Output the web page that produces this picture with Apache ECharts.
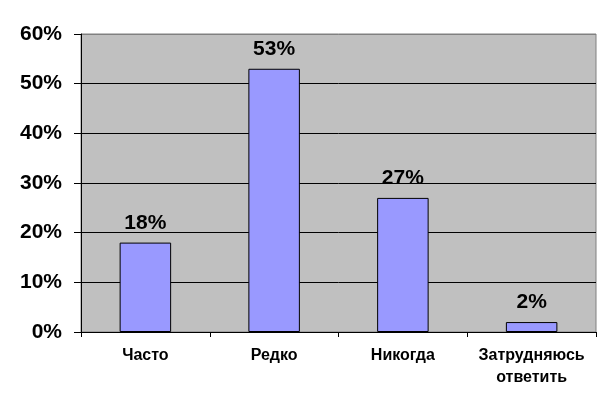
<!DOCTYPE html>
<html><head><meta charset="utf-8">
<script src="https://cdn.jsdelivr.net/npm/echarts@6/dist/echarts.min.js"></script>
<style>html,body{margin:0;padding:0;background:#fff}#c{width:612px;height:408px}</style>
</head><body><div id="c"></div>
<script>
const categories = ['Часто', 'Редко', 'Никогда', 'Затрудняюсь\nответить'];
const values = [18, 53, 27, 2];
const yTicks = [0, 10, 20, 30, 40, 50, 60];

const chart = echarts.init(document.getElementById('c'), null, {renderer: 'canvas'});
chart.setOption({
  animation: false,
  backgroundColor: '#ffffff',
  grid: {left: 81, right: 16, top: 34, bottom: 76, show: true, backgroundColor: '#C0C0C0', borderColor: '#808080', borderWidth: 1},
  xAxis: {
    type: 'category', data: categories,
    axisLine: {show: true, lineStyle: {color: '#000', width: 1}},
    axisTick: {show: true, alignWithLabel: false, length: 5, lineStyle: {color: '#000'}},
    axisLabel: {fontFamily: 'Liberation Sans, Arial', fontWeight: 'bold', fontSize: 16, color: '#000', margin: 13, lineHeight: 22, interval: 0}
  },
  yAxis: {
    type: 'value', min: yTicks[0], max: yTicks[yTicks.length - 1], interval: 10,
    axisLine: {show: true, lineStyle: {color: '#000', width: 1}},
    axisTick: {show: true, inside: false, length: 7, lineStyle: {color: '#000'}},
    splitLine: {show: true, lineStyle: {color: ['#000', '#000', '#000', '#000', '#000', '#000', '#808080'], width: 1}},
    axisLabel: {formatter: '{value}%', fontFamily: 'Liberation Sans, Arial', fontWeight: 'bold', fontSize: 21, color: '#000', margin: 19}
  },
  series: [{
    type: 'bar', data: values, barWidth: '40%',
    itemStyle: {color: '#9999FF', borderColor: '#000', borderWidth: 1},
    label: {show: true, position: 'top', distance: 9, formatter: '{c}%', fontFamily: 'Liberation Sans, Arial', fontWeight: 'bold', fontSize: 21, color: '#000'}
  }]
});
</script></body></html>
